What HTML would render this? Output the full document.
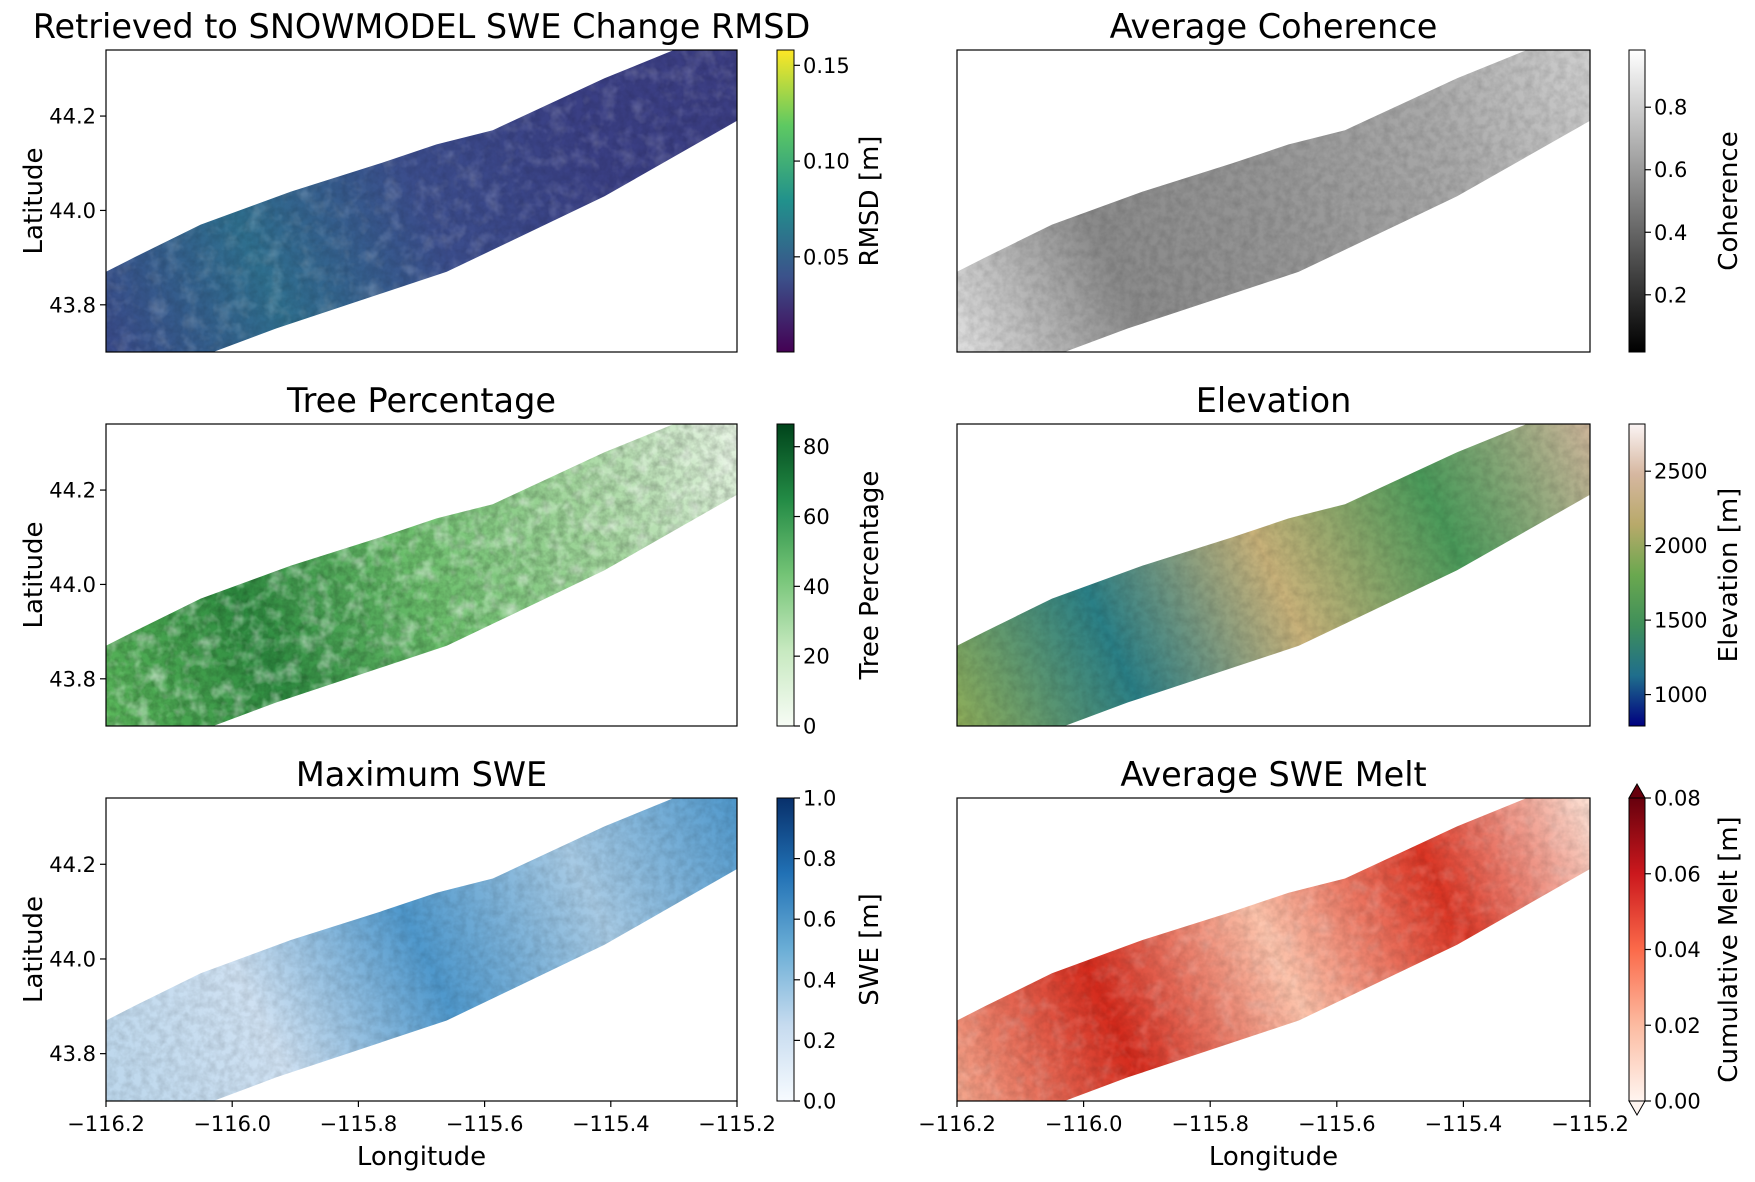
<!DOCTYPE html>
<html><head><meta charset="utf-8"><style>
html,body{margin:0;padding:0;background:#fff}
svg{display:block}
text{font-family:"DejaVu Sans","Liberation Sans",sans-serif;fill:#000}
</style></head><body>
<svg id="fig" width="1755" height="1182" viewBox="0 0 1755 1182" xmlns="http://www.w3.org/2000/svg">
<defs>
<filter id="noise" x="0" y="0" width="100%" height="100%">
<feTurbulence type="fractalNoise" baseFrequency="0.12" numOctaves="3" seed="4"/>
<feColorMatrix type="matrix" values="0 0 0 0 0  0 0 0 0 0  0 0 0 0 0  0 0 0 -1.6 1.1"/>
</filter>
<filter id="noiseW" x="0" y="0" width="100%" height="100%">
<feTurbulence type="fractalNoise" baseFrequency="0.06" numOctaves="3" seed="9"/>
<feColorMatrix type="matrix" values="0 0 0 0 1  0 0 0 0 1  0 0 0 0 1  0 0 0 -2.2 1.2"/>
</filter>
</defs>
</svg>
<script>
// swath outline (lon, lat)
const swathLon = [-116.2,-116.156,-116.05,-115.907,-115.765,-115.676,-115.587,-115.41,-115.3,-115.2,-115.2,-115.41,-115.66,-115.93,-116.03,-116.12,-116.2];
const swathLat = [43.87,43.90,43.97,44.04,44.10,44.14,44.17,44.28,44.34,44.34,44.19,44.03,43.87,43.75,43.70,43.70,43.70];
const xTicks = [-116.2,-116.0,-115.8,-115.6,-115.4,-115.2];
const xTickLabels = ["−116.2","−116.0","−115.8","−115.6","−115.4","−115.2"];
const yTicks = [43.8,44.0,44.2];
const yTickLabels = ["43.8","44.0","44.2"];
const panelTitles = ["Retrieved to SNOWMODEL SWE Change RMSD","Average Coherence","Tree Percentage","Elevation","Maximum SWE","Average SWE Melt"];
const cbLabels = ["RMSD [m]","Coherence","Tree Percentage","Elevation [m]","SWE [m]","Cumulative Melt [m]"];
const cbMin = [0.0003,0.017,0,789,0,0];
const cbMax = [0.158,0.983,86.5,2817,1,0.08];
const cbTicks = [[0.05,0.10,0.15],[0.2,0.4,0.6,0.8],[0,20,40,60,80],[1000,1500,2000,2500],[0,0.2,0.4,0.6,0.8,1.0],[0,0.02,0.04,0.06,0.08]];
const cbTickLabels = [["0.05","0.10","0.15"],["0.2","0.4","0.6","0.8"],["0","20","40","60","80"],["1000","1500","2000","2500"],["0.0","0.2","0.4","0.6","0.8","1.0"],["0.00","0.02","0.04","0.06","0.08"]];
const cmaps = [
 ["#440154","#3b528b","#21918c","#5ec962","#fde725"],
 ["#000000","#ffffff"],
 ["#f7fcf5","#c7e9c0","#74c476","#238b45","#00441b"],
 ["#000080","#1f6e8c","#3f8f5a","#6aa84f","#b8a96a","#d6b7a0","#fbf4f4"],
 ["#f7fbff","#c6dbef","#6baed6","#2171b5","#08306b"],
 ["#fff5f0","#fcbba1","#fb6a4a","#cb181d","#67000d"]];
// swath fill colors along the swath (west -> east)
const swathColors = [
 ["#3a4a8a","#2f6f8e","#3b4d8c","#3a3f84","#3b3d82"],
 ["#e0e0e0","#8a8a8a","#959595","#a8a8a8","#cfcfcf"],
 ["#5cb85c","#2e8b40","#6cbf6c","#a2d69c","#e6f4e2"],
 ["#8fae5a","#2a7f86","#c9b27a","#4a9a5a","#cdb59a"],
 ["#bcd7ec","#cfe1f2","#4f98cc","#a7cae4","#4f98cc"],
 ["#f4a68c","#d42a1c","#fcc3ab","#dc3524","#fde3d6"]];

const NS="http://www.w3.org/2000/svg";
const svg=document.getElementById('fig');
const defs=svg.querySelector('defs');
function mk(tag,attrs,parent){const e=document.createElementNS(NS,tag);for(const k in attrs)e.setAttribute(k,attrs[k]);(parent||svg).appendChild(e);return e;}
const colX=[[106,737],[957,1590]];
const rowY=[[50,352],[424,726],[798,1101]];
const cbX=[[777,794],[1629,1645]];
const lonMin=-116.2,lonMax=-115.2,latMin=43.7,latMax=44.34;

for(let p=0;p<6;p++){
 const c=p%2,r=Math.floor(p/2);
 const [x0,x1]=colX[c],[y0,y1]=rowY[r];
 const sx=v=>x0+(v-lonMin)/(lonMax-lonMin)*(x1-x0);
 const sy=v=>y1-(v-latMin)/(latMax-latMin)*(y1-y0);
 const g=mk('g',{});
 
 
 const gid='sg'+p;
 const lg=mk('linearGradient',{id:gid,gradientUnits:'userSpaceOnUse',x1:x0,y1:y1,x2:x1,y2:y0},defs);
 swathColors[p].forEach((col,i)=>mk('stop',{offset:i/(swathColors[p].length-1),'stop-color':col},lg));
 const pts=swathLon.map((lo,i)=>sx(lo).toFixed(1)+','+sy(swathLat[i]).toFixed(1)).join(' ');
 const cid='clip'+p;
 const cp=mk('clipPath',{id:cid},defs);
 mk('polygon',{points:pts},cp);
 const sw=mk('polygon',{points:pts,fill:'url(#'+gid+')'},g);
 
 
 const tg=mk('g',{'clip-path':'url(#'+cid+')'},g);
 mk('rect',{x:x0,y:y0,width:x1-x0,height:y1-y0,filter:'url(#noise)',opacity:p==2?0.25:0.13},tg);
 if(p==2||p==0||p==5) mk('rect',{x:x0,y:y0,width:x1-x0,height:y1-y0,filter:'url(#noiseW)',opacity:p==2?0.5:0.18},tg);
 const fr=mk('rect',{x:x0,y:y0,width:x1-x0,height:y1-y0,fill:'none',stroke:'#000','stroke-width':1.2},g);
 
 
 const t=mk('text',{x:(x0+x1)/2,y:y0-12,'text-anchor':'middle','font-size':33.5},g);
 t.textContent=panelTitles[p];
 
 
 if(c==0){
  yTicks.forEach((v,i)=>{
   mk('line',{x1:x0,x2:x0-6,y1:sy(v),y2:sy(v),stroke:'#000','stroke-width':1.2},g);
   const tl=mk('text',{x:x0-10,y:sy(v)+7.5,'text-anchor':'end','font-size':21},g);
   tl.textContent=yTickLabels[i];
   
   
  });
  const yl=mk('text',{transform:`translate(${x0-64},${(y0+y1)/2}) rotate(-90)`,'text-anchor':'middle','font-size':26},g);
  yl.textContent='Latitude';
  
  
 }
 if(r==2){
  xTicks.forEach((v,i)=>{
   mk('line',{x1:sx(v),x2:sx(v),y1:y1,y2:y1+6,stroke:'#000','stroke-width':1.2},g);
   const tl=mk('text',{x:sx(v),y:y1+30,'text-anchor':'middle','font-size':21},g);
   tl.textContent=xTickLabels[i];
   
   
  });
  const xl=mk('text',{x:(x0+x1)/2,y:y1+64,'text-anchor':'middle','font-size':26},g);
  xl.textContent='Longitude';
  
  
 }
 const [cx0,cx1]=cbX[c];
 const cy=v=>y1-(v-cbMin[p])/(cbMax[p]-cbMin[p])*(y1-y0);
 const cg=mk('linearGradient',{id:'cb'+p,x1:0,y1:1,x2:0,y2:0},defs);
 cmaps[p].forEach((col,i)=>mk('stop',{offset:i/(cmaps[p].length-1),'stop-color':col},cg));
 const cb=mk('rect',{x:cx0,y:y0,width:cx1-cx0,height:y1-y0,fill:'url(#cb'+p+')',stroke:'#000','stroke-width':1},g);
 
 
 if(p==5){
  const tu=mk('polygon',{points:`${cx0},${y0} ${cx1},${y0} ${(cx0+cx1)/2},${y0-14}`,fill:'#67000d',stroke:'#000','stroke-width':1},g);
  
  
  const td=mk('polygon',{points:`${cx0},${y1} ${cx1},${y1} ${(cx0+cx1)/2},${y1+14}`,fill:'#fff5f0',stroke:'#000','stroke-width':1},g);
  
  
 }
 cbTicks[p].forEach((v,i)=>{
  const yy=cy(v);
  mk('line',{x1:cx1,x2:cx1+6,y1:yy,y2:yy,stroke:'#000','stroke-width':1.2},g);
  const tl=mk('text',{x:cx1+9,y:yy+7.5,'font-size':21},g);
  tl.textContent=cbTickLabels[p][i];
  
  
 });
 const lx=c==0?cx1+84:cx1+92;
 const cl=mk('text',{transform:`translate(${lx},${(y0+y1)/2}) rotate(-90)`,'text-anchor':'middle','font-size':26},g);
 cl.textContent=cbLabels[p];
 
 
}
</script>
</body></html>
